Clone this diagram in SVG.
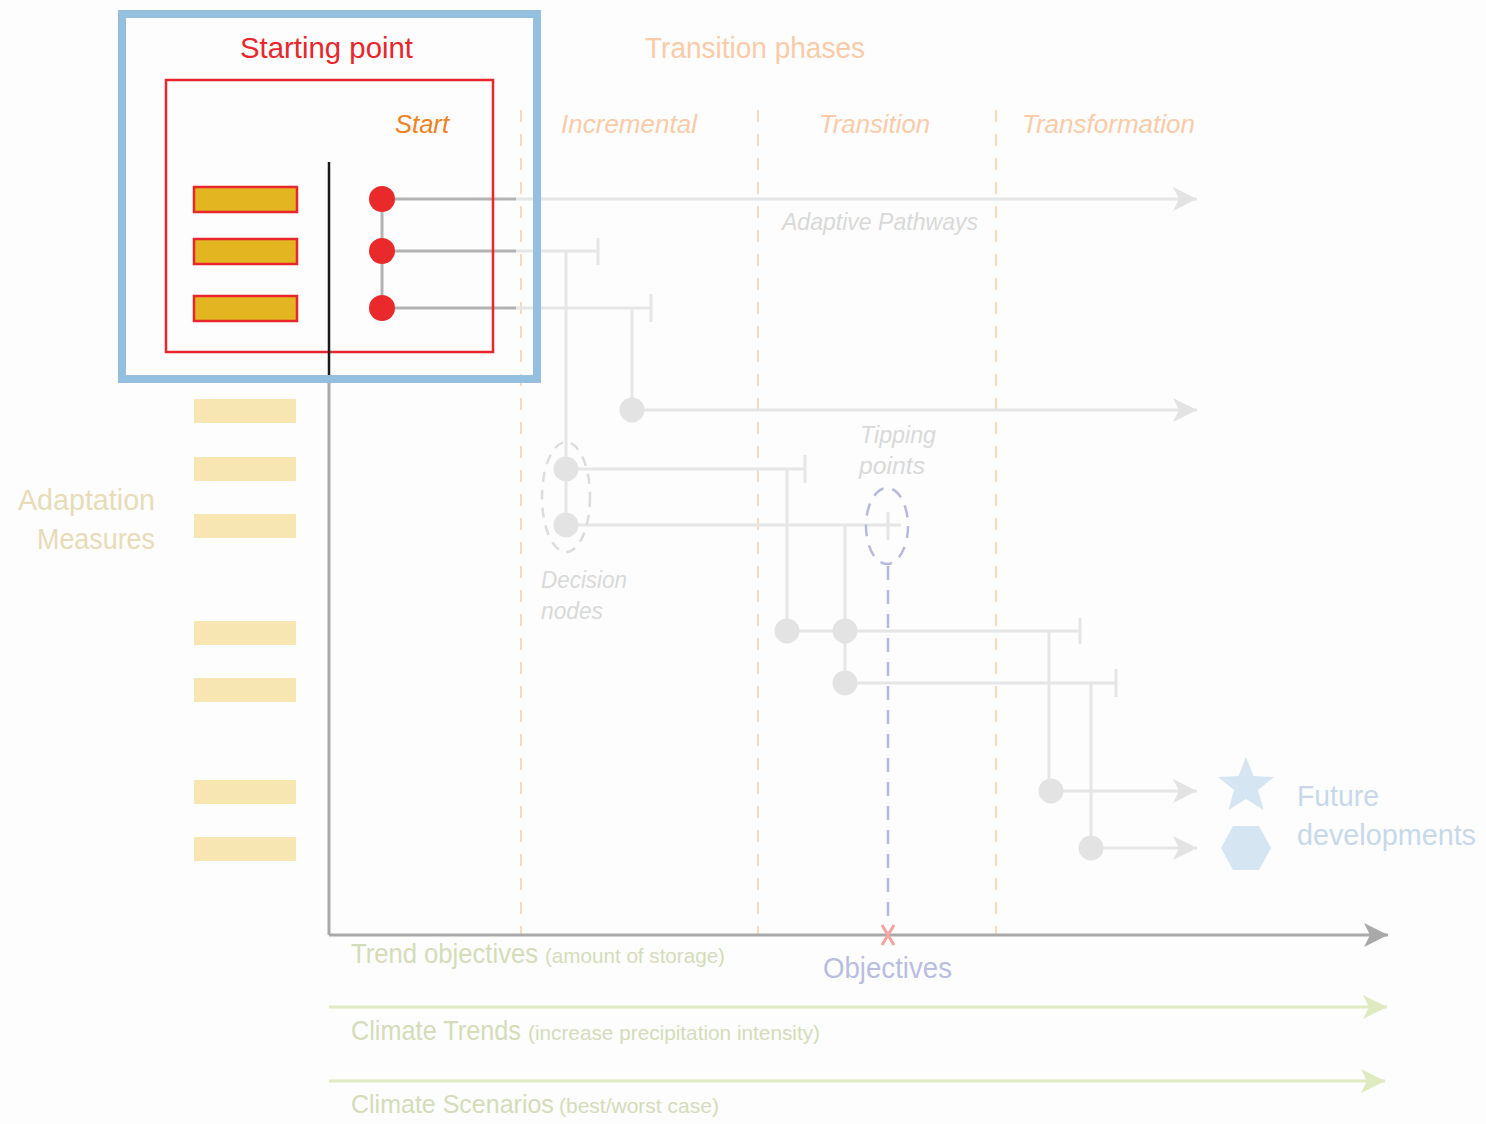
<svg xmlns="http://www.w3.org/2000/svg" width="1486" height="1124" viewBox="0 0 1486 1124">
<defs>
<style>
text{font-family:"Liberation Sans",Arial,sans-serif}
.it{font-style:italic}
.phase{fill:#f9cba8;font-size:26px;font-style:italic}
.note{fill:#d9d9d9;font-size:24px;font-style:italic}
.vdash{stroke:#f9d9bf;stroke-width:2;stroke-dasharray:12 12;fill:none}
.pl{stroke:#e6e6e6;stroke-width:3;fill:none}
.pd{stroke:#b3b3b3;stroke-width:3;fill:none}
.gdot{fill:#e3e3e3}
.rdot{fill:#ea2a2a}
.bar{fill:#e3b521;stroke:#e8262b;stroke-width:2.5}
.fbar{fill:#f7e5b2}
.green{stroke:#e0ebc4;stroke-width:3;fill:none}
.gtxt{fill:#d4dcba}
</style>
<marker id="aL" markerUnits="userSpaceOnUse" markerWidth="26" markerHeight="26" refX="24" refY="12" orient="auto"><path d="M0,0 L24,12 L0,24 L6,12 Z" fill="#e3e3e3"/></marker>
<marker id="aG" markerUnits="userSpaceOnUse" markerWidth="26" markerHeight="26" refX="24" refY="12" orient="auto"><path d="M0,0 L24,12 L0,24 L6,12 Z" fill="#a9a9a9"/></marker>
<marker id="aGr" markerUnits="userSpaceOnUse" markerWidth="26" markerHeight="26" refX="24" refY="12" orient="auto"><path d="M0,0 L24,12 L0,24 L6,12 Z" fill="#dfeac0"/></marker>
</defs>
<rect width="1486" height="1124" fill="#fdfdfd"/>

<g id="phase-dividers">
<line class="vdash" x1="521" y1="110" x2="521" y2="935"/>
<line class="vdash" x1="758" y1="110" x2="758" y2="935"/>
<line class="vdash" x1="996" y1="110" x2="996" y2="935"/>
</g>

<g id="header">
<text x="645" y="58" font-size="30" fill="#f9cba8" textLength="220" lengthAdjust="spacingAndGlyphs">Transition phases</text>
<text class="phase" x="561" y="133" textLength="136" lengthAdjust="spacingAndGlyphs">Incremental</text>
<text class="phase" x="819" y="133" textLength="111" lengthAdjust="spacingAndGlyphs">Transition</text>
<text class="phase" x="1022" y="133" textLength="173" lengthAdjust="spacingAndGlyphs">Transformation</text>
</g>

<g id="connectors">
<line x1="329" y1="378" x2="329" y2="935" stroke="#a9a9a9" stroke-width="3"/>
<line x1="329" y1="935" x2="1388" y2="935" stroke="#a9a9a9" stroke-width="3" marker-end="url(#aG)"/>
<line class="green" x1="329" y1="1007" x2="1387" y2="1007" marker-end="url(#aGr)"/>
<line class="green" x1="329" y1="1081" x2="1385" y2="1081" marker-end="url(#aGr)"/>

<line class="pl" x1="516" y1="199" x2="1197" y2="199" marker-end="url(#aL)"/>
<path class="pl" d="M516,251 H598 M598,238 V265"/>
<path class="pl" d="M566,251 V525"/>
<path class="pl" d="M516,308 H651 M651,294 V322"/>
<path class="pl" d="M632,308 V410"/>
<line class="pl" x1="632" y1="410" x2="1197" y2="410" marker-end="url(#aL)"/>
<path class="pl" d="M566,469 H805 M805,455 V483"/>
<path class="pl" d="M787,469 V631"/>
<path class="pl" d="M566,525 H901 M888,512 V540"/>
<path class="pl" d="M845,525 V683"/>
<path class="pl" d="M787,631 H1080 M1080,618 V644"/>
<path class="pl" d="M1049,631 V791"/>
<path class="pl" d="M845,683 H1116 M1116,669 V697"/>
<path class="pl" d="M1091,683 V848"/>
<line class="pl" x1="1051" y1="791" x2="1197" y2="791" marker-end="url(#aL)"/>
<line class="pl" x1="1091" y1="848" x2="1197" y2="848" marker-end="url(#aL)"/>

<path class="pd" d="M382,199 V308 M382,199 H516 M382,251 H516 M382,308 H516"/>

<line x1="888" y1="566" x2="888" y2="922" stroke="#b6b9de" stroke-width="2.5" stroke-dasharray="14 10"/>
</g>

<g id="decision-nodes">
<ellipse cx="566" cy="497" rx="24" ry="55" fill="none" stroke="#dcdcdc" stroke-width="2.5" stroke-dasharray="10 8"/>
<circle class="gdot" cx="566" cy="469" r="12.5"/>
<circle class="gdot" cx="566" cy="525" r="12.5"/>
<text class="note" x="541" y="588" textLength="86" lengthAdjust="spacingAndGlyphs">Decision</text>
<text class="note" x="541" y="619" textLength="62" lengthAdjust="spacingAndGlyphs">nodes</text>
</g>

<g id="pathway-nodes">
<circle class="gdot" cx="632" cy="410" r="12.5"/>
<circle class="gdot" cx="787" cy="631" r="12.5"/>
<circle class="gdot" cx="845" cy="631" r="12.5"/>
<circle class="gdot" cx="845" cy="683" r="12.5"/>
<circle class="gdot" cx="1051" cy="791" r="12.5"/>
<circle class="gdot" cx="1091" cy="848" r="12.5"/>
<text class="note" x="782" y="230" textLength="196" lengthAdjust="spacingAndGlyphs">Adaptive Pathways</text>
</g>

<g id="tipping-points">
<ellipse cx="887" cy="526" rx="21" ry="38" fill="none" stroke="#b6b9de" stroke-width="2.5" stroke-dasharray="12 9"/>
<text class="note" x="860" y="443" textLength="76" lengthAdjust="spacingAndGlyphs">Tipping</text>
<text class="note" x="859" y="474" textLength="66" lengthAdjust="spacingAndGlyphs">points</text>
</g>

<g id="adaptation-measures">
<rect class="fbar" x="194" y="399" width="102" height="24"/>
<rect class="fbar" x="194" y="457" width="102" height="24"/>
<rect class="fbar" x="194" y="514" width="102" height="24"/>
<rect class="fbar" x="194" y="621" width="102" height="24"/>
<rect class="fbar" x="194" y="678" width="102" height="24"/>
<rect class="fbar" x="194" y="780" width="102" height="24"/>
<rect class="fbar" x="194" y="837" width="102" height="24"/>
<text x="155" y="510" font-size="30" fill="#e8dbb8" text-anchor="end" textLength="137" lengthAdjust="spacingAndGlyphs">Adaptation</text>
<text x="155" y="549" font-size="30" fill="#e8dbb8" text-anchor="end" textLength="118" lengthAdjust="spacingAndGlyphs">Measures</text>
</g>

<g id="future-developments">
<polygon points="1246,757 1253.5,776 1274,777 1258,790 1263.5,810 1246,799 1228.5,810 1234,790 1218,777 1238.5,776" fill="#d6e5f2"/>
<polygon points="1233,826 1259,826 1271,848 1259,870 1233,870 1221,848" fill="#d6e5f2"/>
<text x="1297" y="806" font-size="30" fill="#c7d9e9" textLength="82" lengthAdjust="spacingAndGlyphs">Future</text>
<text x="1297" y="845" font-size="30" fill="#c7d9e9" textLength="179" lengthAdjust="spacingAndGlyphs">developments</text>
</g>

<g id="objectives">
<path d="M882,925 L894,945 M894,925 L882,945" stroke="#f4a3a3" stroke-width="3"/>
<text x="823" y="978" font-size="30" fill="#b9bde0" textLength="129" lengthAdjust="spacingAndGlyphs">Objectives</text>
</g>

<g id="trend-objectives">
<text x="351" y="963" font-size="28" class="gtxt" textLength="187" lengthAdjust="spacingAndGlyphs">Trend objectives</text>
<text x="545" y="963" font-size="21" class="gtxt" textLength="180" lengthAdjust="spacingAndGlyphs">(amount of storage)</text>
</g>
<g id="climate-trends">
<text x="351" y="1040" font-size="28" class="gtxt" textLength="170" lengthAdjust="spacingAndGlyphs">Climate Trends</text>
<text x="528" y="1040" font-size="21" class="gtxt" textLength="292" lengthAdjust="spacingAndGlyphs">(increase precipitation intensity)</text>
</g>
<g id="climate-scenarios">
<text x="351" y="1113" font-size="25" class="gtxt">Climate Scenarios</text>
<text x="559" y="1113" font-size="21" class="gtxt">(best/worst case)</text>
</g>

<g id="starting-point">
<rect x="166" y="80" width="327" height="272" fill="none" stroke="#e8262b" stroke-width="2.5"/>
<text x="240" y="58" font-size="30" fill="#e8262b" textLength="173" lengthAdjust="spacingAndGlyphs">Starting point</text>
<text x="395" y="133" font-size="26" class="it" fill="#f08020" textLength="54" lengthAdjust="spacingAndGlyphs">Start</text>
<rect class="bar" x="194" y="187" width="103" height="25"/>
<rect class="bar" x="194" y="239" width="103" height="25"/>
<rect class="bar" x="194" y="296" width="103" height="25"/>
<line x1="329" y1="162" x2="329" y2="378" stroke="#1a1a1a" stroke-width="2.5"/>
<circle class="rdot" cx="382" cy="199" r="13"/>
<circle class="rdot" cx="382" cy="251" r="13"/>
<circle class="rdot" cx="382" cy="308" r="13"/>
<rect x="122" y="14" width="415" height="365" fill="none" stroke="#94bfdf" stroke-width="8"/>
</g>
</svg>
